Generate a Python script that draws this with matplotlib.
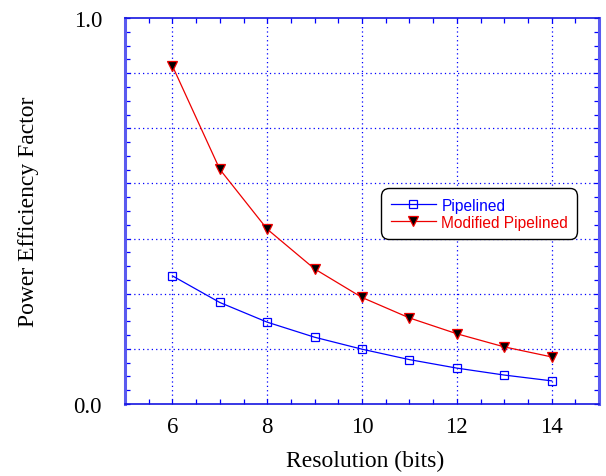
import numpy as np
import matplotlib
matplotlib.use("Agg")
import matplotlib.pyplot as plt
from matplotlib.ticker import MultipleLocator, FixedLocator

# data
bits = [6, 7, 8, 9, 10, 11, 12, 13, 14]
pipelined = [0.332, 0.263, 0.212, 0.173, 0.142, 0.115, 0.093, 0.075, 0.060]
modified = [0.876, 0.608, 0.453, 0.350, 0.276, 0.223, 0.182, 0.148, 0.122]
series_labels = ["Pipelined", "Modified Pipelined"]

serif = ["Liberation Serif", "DejaVu Serif"]
sans = ["Liberation Sans", "DejaVu Sans"]

fig = plt.figure(figsize=(6.06, 4.77), dpi=100)
ax = fig.add_axes([125 / 606, 72 / 477, 474 / 606, 386 / 477])

ax.plot(bits, pipelined, color="#0000ff", lw=0.9, marker="s", ms=5.5,
        mfc="none", mec="#0000ff", mew=0.9, label=series_labels[0])
ax.plot(bits, modified, color="#ee0000", lw=0.9, marker="v", ms=6.5,
        mfc="black", mec="#ee0000", mew=0.9, label=series_labels[1])

ax.set_xlim(5, 15)
ax.set_ylim(0, 1)

# grid: x at even bits, y at sevenths
for gx in [6, 8, 10, 12, 14]:
    ax.axvline(gx, color="#0000ff", lw=0.9, ls=(0, (1, 2.5)), zorder=0)
for k in range(1, 7):
    ax.axhline(k / 7, color="#0000ff", lw=0.9, ls=(0, (1, 2.5)), zorder=0)

ax.xaxis.set_major_locator(FixedLocator([6, 8, 10, 12, 14]))
ax.xaxis.set_minor_locator(MultipleLocator(0.5))
ax.yaxis.set_major_locator(FixedLocator([k / 7 for k in range(8)]))
ax.yaxis.set_minor_locator(MultipleLocator(1 / 28))
ax.set_yticklabels(["0.0", "", "", "", "", "", "", "1.0"])

ax.tick_params(which="both", direction="in", top=True, right=True,
               color="#0000ff", length=3.5, width=0.9)
ax.tick_params(axis="x", which="major", pad=9, labelsize=16.5)
ax.tick_params(axis="y", which="major", pad=16.5, labelsize=16.5)
for lab in ax.get_xticklabels() + ax.get_yticklabels():
    lab.set_family(serif)

for side in ["left", "right"]:
    ax.spines[side].set_color("#5a5af0")
    ax.spines[side].set_linewidth(2.2)
for side in ["top", "bottom"]:
    ax.spines[side].set_color("#1515e0")
    ax.spines[side].set_linewidth(1.2)

ax.set_xlabel("Resolution (bits)", family=serif, fontsize=17)
ax.set_ylabel("Power Efficiency Factor", family=serif, fontsize=17)
ax.xaxis.set_label_coords(0.506, -0.118)
ax.yaxis.set_label_coords(-0.181, 0.5)

leg = ax.legend(loc="upper left", bbox_to_anchor=(0.541, 0.559),
                prop={"family": sans, "size": 11.2}, numpoints=1,
                handlelength=2.9, handletextpad=0.35, labelspacing=0.15,
                borderpad=0.6, borderaxespad=0, fancybox=True,
                framealpha=1, edgecolor="black")
leg.get_frame().set_linewidth(1.0)
leg.get_frame().set_boxstyle("round", pad=0, rounding_size=0.5)
for txt, line in zip(leg.get_texts(), leg.get_lines()):
    txt.set_color(line.get_color())

fig.savefig("out.png", dpi=100)
